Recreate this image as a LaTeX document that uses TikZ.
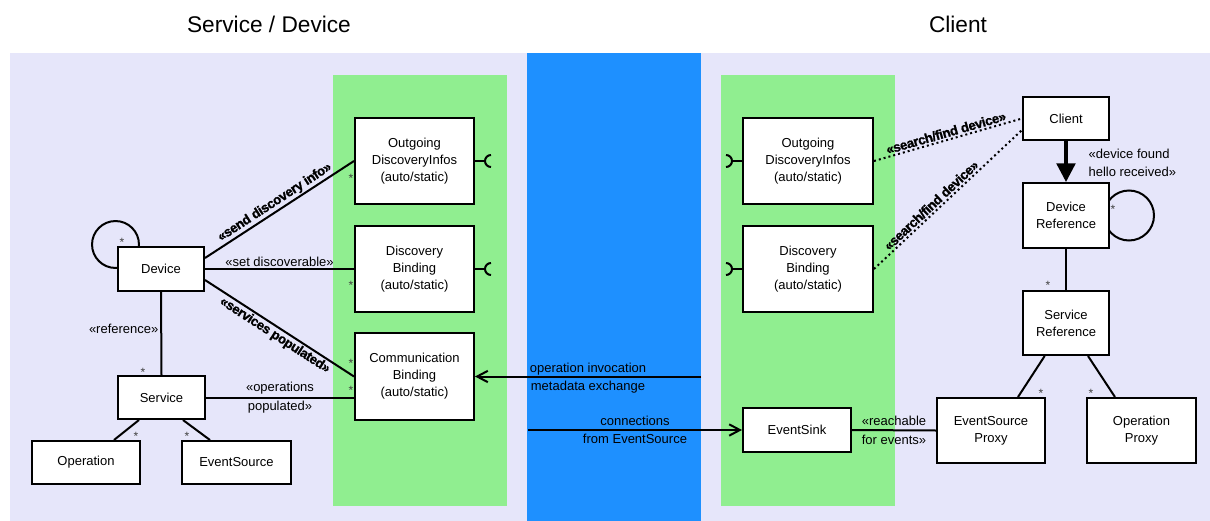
\documentclass[tikz,border=0pt]{standalone}
\usepackage{fontspec}
\setmainfont{Liberation Sans}
\newfontfamily\blf{Liberation Sans}[LetterSpace=-3,BoldFeatures={FakeBold=1.2}]
\usetikzlibrary{arrows.meta,calc}
\pgfdeclarelayer{bg}\pgfdeclarelayer{mid}\pgfsetlayers{bg,mid,main}
\definecolor{lav}{HTML}{E6E6FA}
\definecolor{lgreen}{HTML}{90EE90}
\definecolor{dblue}{HTML}{1E90FF}
\begin{document}
\begin{tikzpicture}[x=0.75pt,y=-0.75pt,
 box/.style={draw,line width=1.5pt,fill=white,align=center,inner sep=0pt,font=\fontsize{9.75}{12.75}\selectfont},
 sz/.style 2 args={minimum width=#1*0.75pt,minimum height=#2*0.75pt},
 conn/.style={line width=1.5pt},
 lbl/.style={font=\fontsize{9.75}{13}\selectfont,align=center,inner sep=1pt},
 blbl/.style={font=\blf\bfseries\fontsize{10}{11}\selectfont,inner sep=1pt,sloped},
 star/.style={font=\fontsize{9}{9}\selectfont,inner sep=0pt,text=black!75},
 title/.style={font=\fontsize{17}{20}\selectfont,inner sep=0pt},
 dots/.style={line width=1.5pt,dash pattern=on 1.5pt off 2.25pt},
 barb/.style={-{Straight Barb[length=8pt,width=8.5pt]}}]
\useasboundingbox (0,0) rectangle (1210,521);
% panels
\begin{pgfonlayer}{bg}
\fill[lav] (10,53) rectangle (1210,521);
\fill[lgreen] (333,75) rectangle (507,506);
\fill[dblue] (527,53) rectangle (701,521);
\fill[lgreen] (721,75) rectangle (895,506);
\end{pgfonlayer}
% titles
\node[title] (t1) at (269,24) {Service / Device};
\node[title] (t2) at (958,24) {Client};
% left side nodes
\node[box,sz={86}{44}] (dev) at (161,269) {Device};
\node[box,sz={87}{43}] (srv) at (161.5,397.5) {Service};
\node[box,sz={108}{43}] (op) at (86,462.5) {Operation};
\node[box,sz={109}{43}] (es) at (236.5,462.5) {EventSource};
\node[box,sz={119}{86}] (odl) at (414.5,161) {Outgoing\\DiscoveryInfos\\(auto/static)};
\node[box,sz={119}{86}] (dbl) at (414.5,269) {Discovery\\Binding\\(auto/static)};
\node[box,sz={119}{87}] (cbl) at (414.5,376.5) {Communication\\Binding\\(auto/static)};
% right side nodes
\node[box,sz={130}{86}] (odr) at (808,161) {Outgoing\\DiscoveryInfos\\(auto/static)};
\node[box,sz={130}{86}] (dbr) at (808,269) {Discovery\\Binding\\(auto/static)};
\node[box,sz={108}{44}] (esink) at (797,430) {EventSink};
\node[box,sz={86}{43}] (cli) at (1066,118.5) {Client};
\node[box,sz={86}{65}] (dref) at (1066,215.5) {Device\\Reference};
\node[box,sz={86}{64}] (sref) at (1066,323) {Service\\Reference};
\node[box,sz={108}{65}] (esp) at (991,430.5) {EventSource\\Proxy};
\node[box,sz={109}{65}] (opp) at (1141.5,430.5) {Operation\\Proxy};
% self loops
\begin{pgfonlayer}{mid}
\draw[conn] ([shift={(-1.5,-1.5)}]dev.north west) circle[radius=17.6pt];
\draw[conn] ([xshift=14.25pt]dref.east) circle[radius=18.75pt];
\end{pgfonlayer}
% left connectors
\draw[conn] ([yshift=8.25pt]dev.east) -- (odl.west)
  node[blbl,midway,above] {«send discovery info»};
\draw[conn] (dev.east) -- (dbl.west)
  node[lbl,midway,above] {«set discoverable»};
\draw[conn] ([yshift=-8.25pt]dev.east) -- (cbl.west)
  node[blbl,midway,below] {«services populated»};
\draw[conn] (srv.east) -- (srv.east -| cbl.west)
  node[lbl,midway] {«operations\\[1pt]populated»};
\draw[conn] (dev.south) -- (srv.north);
\node[lbl,anchor=east] (refl) at (160,329) {«reference»};
\draw[conn] ([xshift=-16.9pt]srv.south) -- ([xshift=21pt]op.north);
\draw[conn] ([xshift=16.1pt]srv.south) -- ([xshift=-19.9pt]es.north);
% sockets left
\draw[conn] (odl.east) -- ++(10,0) coordinate (s1);
\draw[conn] (s1) ++(6,-6) arc[start angle=90,end angle=270,radius=4.5pt];
\draw[conn] (dbl.east) -- ++(10,0) coordinate (s2);
\draw[conn] (s2) ++(6,-6) arc[start angle=90,end angle=270,radius=4.5pt];
% sockets right
\draw[conn] (odr.west) -- ++(-10,0) coordinate (s3);
\draw[conn] (s3) ++(-6,6) arc[start angle=-90,end angle=90,radius=4.5pt];
\draw[conn] (dbr.west) -- ++(-10,0) coordinate (s4);
\draw[conn] (s4) ++(-6,6) arc[start angle=-90,end angle=90,radius=4.5pt];
% middle
\coordinate (oi) at (701,376.5);
\draw[conn,barb] (oi) -- (cbl.east);
\node[lbl] (oil) at (588,378) {operation invocation\\[1pt]metadata exchange};
\coordinate (cn) at (528,430);
\draw[conn,barb] (cn) -- (esink.west);
\node[lbl] (cnl) at (635,430) {connections\\[1pt]from EventSource};
% right connectors
\draw[conn] (esink.east) -- (esp.west)
  node[lbl,midway] {«reachable\\[1pt]for events»};
\draw[dots] (odr.east) -- (cli.west)
  node[blbl,midway,above] {«search/find device»};
\draw[dots] (dbr.east) -- ([yshift=-8.6pt]cli.west)
  node[blbl,pos=0.42,above] {«search/find device»};
\draw[line width=2.5pt,-{Triangle[length=14pt,width=14pt]}] (cli.south) -- (dref.north);
\node[lbl,anchor=west,align=left] (dfl) at (1087,163) {«device found\\hello received»};
\draw[conn] (dref.south) -- (sref.north);
\draw[conn] ([xshift=-16pt]sref.south) -- ([xshift=20.25pt]esp.north);
\draw[conn] ([xshift=16.5pt]sref.south) -- ([xshift=-19.9pt]opp.north);
% multiplicities
\node[star] (m1) at (122,242) {*};
\node[star] (m2) at (143,372) {*};
\node[star] (m3) at (136,436) {*};
\node[star] (m4) at (187,436) {*};
\node[star] (m5) at (351,178) {*};
\node[star] (m6) at (351,285) {*};
\node[star] (m7) at (351,363) {*};
\node[star] (m8) at (351,390) {*};
\node[star] (m9) at (1113,209) {*};
\node[star] (m10) at (1048,285) {*};
\node[star] (m11) at (1041,393) {*};
\node[star] (m12) at (1091,393) {*};
\end{tikzpicture}
\end{document}
